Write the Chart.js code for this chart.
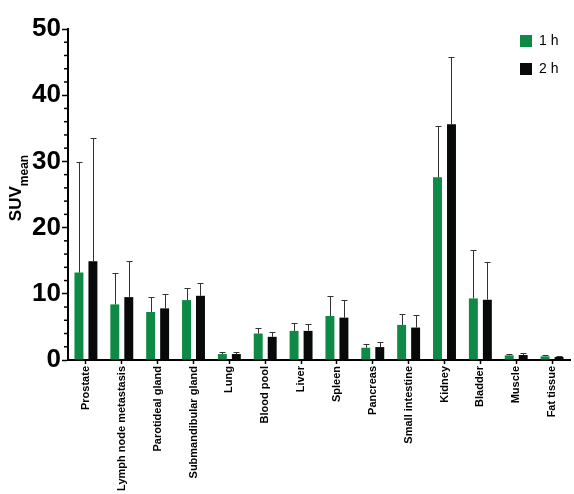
<!DOCTYPE html>
<html>
<head>
<meta charset="utf-8">
<script src="https://cdn.jsdelivr.net/npm/chart.js@4.4.0/dist/chart.umd.min.js"></script>
<style>
  html, body { margin: 0; padding: 0; background: #fff; }
  #wrap { width: 574px; height: 494px; }
</style>
</head>
<body>
<div id="wrap"><canvas id="chart" width="574" height="494"></canvas></div>
<script>
// organs on the x axis
const organs = ['Prostate', 'Lymph node metastasis', 'Parotideal gland', 'Submandibular gland', 'Lung',
  'Blood pool', 'Liver', 'Spleen', 'Pancreas', 'Small intestine', 'Kidney', 'Bladder', 'Muscle', 'Fat tissue'];

// SUVmean at 1 h and 2 h, with the top of each error bar
const suv1h    = [13.2, 8.4, 7.25, 9.05, 0.9, 4.0, 4.4, 6.65, 1.85, 5.3, 27.6, 9.3, 0.7, 0.55];
const suv1hTop = [29.9, 13.2, 9.5, 10.9, 1.15, 4.8, 5.6, 9.6, 2.4, 6.95, 35.3, 16.6, 0.9, 0.7];
const suv2h    = [14.9, 9.5, 7.8, 9.7, 0.9, 3.5, 4.4, 6.4, 1.95, 4.9, 35.6, 9.1, 0.75, 0.45];
const suv2hTop = [33.6, 14.9, 9.9, 11.6, 1.25, 4.3, 5.4, 9.0, 2.65, 6.75, 45.7, 14.85, 1.0, 0.65];

const yTicks = [0, 10, 20, 30, 40, 50];

const font = "'Liberation Sans', Arial, sans-serif";

// error bars (upper only) + minor ticks + legend + y title
const extras = {
  id: 'extras',
  afterDatasetsDraw(chart) {
    const ctx = chart.ctx;
    const y = chart.scales.y;
    const tops = [suv1hTop, suv2hTop];
    ctx.save();
    ctx.strokeStyle = '#333';
    ctx.lineWidth = 1;
    chart.data.datasets.forEach(function(ds, i) {
      const meta = chart.getDatasetMeta(i);
      meta.data.forEach(function(bar, j) {
        const ty = Math.round(y.getPixelForValue(tops[i][j])) + 0.5;
        const x = Math.round(bar.x) + 0.5;
        ctx.beginPath();
        ctx.moveTo(x, bar.y);
        ctx.lineTo(x, ty);
        ctx.moveTo(x - 3, ty);
        ctx.lineTo(x + 3, ty);
        ctx.stroke();
      });
    });
    ctx.restore();
  },
  afterDraw(chart) {
    const ctx = chart.ctx;
    const y = chart.scales.y;
    const left = chart.chartArea.left;
    ctx.save();
    // minor ticks
    ctx.strokeStyle = '#000';
    ctx.lineWidth = 1.5;
    for (let v = 2; v < 50; v += 2) {
      if (v % 10 === 0) continue;
      const py = y.getPixelForValue(v);
      ctx.beginPath();
      ctx.moveTo(left - 4, py);
      ctx.lineTo(left, py);
      ctx.stroke();
    }
    // legend
    ctx.font = '14px ' + font;
    ctx.textBaseline = 'middle';
    chart.data.datasets.forEach(function(ds, i) {
      const ly = 35 + i * 28;
      ctx.fillStyle = ds.backgroundColor;
      ctx.fillRect(520, ly, 12, 12);
      ctx.fillStyle = '#000';
      ctx.fillText(ds.label, 539, ly + 6.5);
    });
    // y title with subscript
    ctx.translate(20.5, 188);
    ctx.rotate(-Math.PI / 2);
    ctx.textBaseline = 'alphabetic';
    ctx.font = 'bold 17px ' + font;
    const w1 = ctx.measureText('SUV').width;
    ctx.font = 'bold 12px ' + font;
    const w2 = ctx.measureText('mean').width;
    const start = -(w1 + w2) / 2;
    ctx.font = 'bold 17px ' + font;
    ctx.fillText('SUV', start, 0);
    ctx.font = 'bold 12px ' + font;
    ctx.fillText('mean', start + w1, 7);
    ctx.restore();
  }
};

new Chart(document.getElementById('chart'), {
  type: 'bar',
  data: {
    labels: organs,
    datasets: [{
      label: '1 h',
      data: suv1h,
      backgroundColor: '#0f8a46',
      categoryPercentage: 0.78,
      barPercentage: 0.64
    }, {
      label: '2 h',
      data: suv2h,
      backgroundColor: '#070a08',
      categoryPercentage: 0.78,
      barPercentage: 0.64
    }]
  },
  options: {
    responsive: false,
    animation: false,
    layout: { padding: { left: 30, top: 29, right: 4, bottom: 0 } },
    plugins: { legend: { display: false }, tooltip: { enabled: false } },
    scales: {
      x: {
        afterFit(scale) { scale.height = 134; },
        grid: { display: true, drawOnChartArea: false, offset: false, tickLength: 4, tickWidth: 1.5, tickColor: '#000' },
        border: { display: true, color: '#000', width: 2 },
        ticks: {
          color: '#000', autoSkip: false, maxRotation: 90, minRotation: 90, padding: 2,
          font: { family: font, size: 11, weight: 'bold' }
        }
      },
      y: {
        min: 0, max: 50,
        afterFit(scale) { scale.width = 38; },
        afterBuildTicks(scale) { scale.ticks = yTicks.map(function(v) { return { value: v }; }); },
        grid: { display: true, drawOnChartArea: false, tickLength: 6, tickWidth: 1.5, tickColor: '#000' },
        border: { display: true, color: '#000', width: 2 },
        ticks: {
          color: '#000', padding: 1,
          font: { family: font, size: 26, weight: 'bold' }
        }
      }
    }
  },
  plugins: [extras]
});
</script>
</body>
</html>
